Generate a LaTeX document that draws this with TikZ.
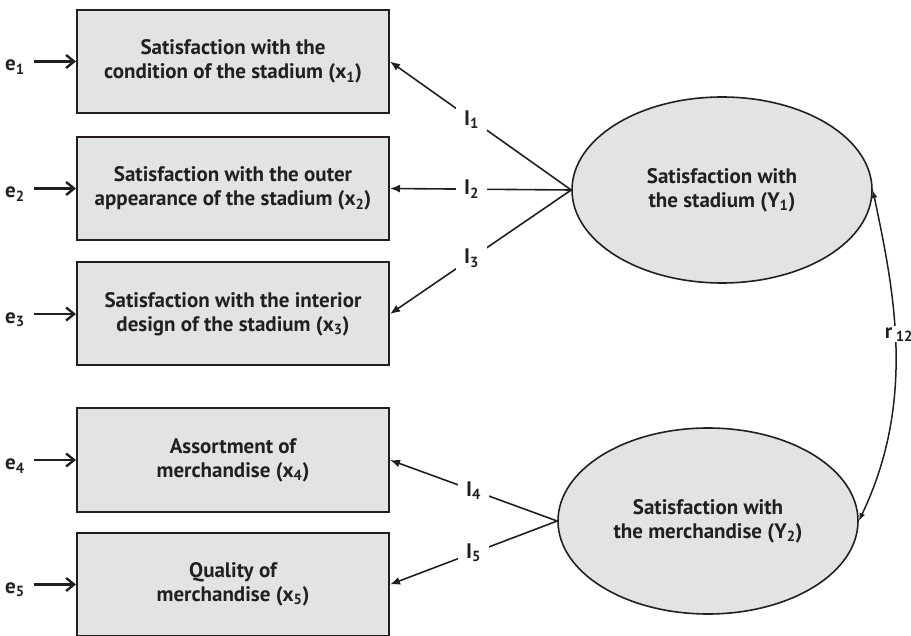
\documentclass[tikz,border=0pt]{standalone}
\usepackage{fontspec}
\setmainfont{PT Sans}
\usetikzlibrary{shapes.geometric,arrows.meta}
\definecolor{cinzento}{RGB}{226,227,229}
\definecolor{tinta}{RGB}{35,31,32}

\begin{document}
\begin{tikzpicture}[x=1pt,y=-1pt,
    font=\fontsize{21}{24}\selectfont\bfseries,text=tinta,
    indicador/.style={rectangle,draw=tinta,line width=2pt,fill=cinzento,minimum width=312pt,minimum height=103pt,align=center},
    construto/.style={ellipse,draw=tinta,line width=1.6pt,fill=cinzento,minimum width=300pt,minimum height=186pt,inner sep=0pt,align=center},
    erro/.style={-{Straight Barb[length=8pt,width=13pt]},line width=2.4pt,draw=tinta},
    carga/.style={-{Latex[length=10pt,width=8pt]},line width=1.6pt,draw=tinta},
    correl/.style={{Latex[length=8pt,width=6pt]}-{Latex[length=8pt,width=6pt]},line width=1.5pt,draw=tinta},
    rotulo/.style={fill=white,inner xsep=8pt,inner ysep=3pt}
]
\useasboundingbox (0,0) rectangle (911,636);

% observed items
\node[indicador] (x1) at (233,61.5) {Satisfaction with the\\condition of the stadium (x\textsubscript{1})};
\node[indicador] (x2) at (233,188.5) {Satisfaction with the outer\\appearance of the stadium (x\textsubscript{2})};
\node[indicador] (x3) at (233,314) {Satisfaction with the interior\\design of the stadium (x\textsubscript{3})};
\node[indicador] (x4) at (233,460) {Assortment of\\merchandise (x\textsubscript{4})};
\node[indicador] (x5) at (233,584.5) {Quality of\\merchandise (x\textsubscript{5})};

% latent variables
\node[construto] (y1) at (722,190) {Satisfaction with\\the stadium (Y\textsubscript{1})};
\node[construto] (y2) at (708,521) {Satisfaction with\\the merchandise (Y\textsubscript{2})};

% errors
\node (e1) at (15,67) {e\textsubscript{1}};
\node (e2) at (15,194) {e\textsubscript{2}};
\node (e3) at (15,320) {e\textsubscript{3}};
\node (e4) at (15,466) {e\textsubscript{4}};
\node (e5) at (15,590) {e\textsubscript{5}};

\draw[erro] ([xshift=6pt]e1.east |- x1.west) -- (x1.west);
\draw[erro] ([xshift=6pt]e2.east |- x2.west) -- (x2.west);
\draw[erro] ([xshift=6pt]e3.east |- x3.west) -- (x3.west);
\draw[erro] ([xshift=6pt]e4.east |- x4.west) -- (x4.west);
\draw[erro] ([xshift=6pt]e5.east |- x5.west) -- (x5.west);

% loadings
\draw[carga] (y1.west) -- node[rotulo,pos=.55] {I\textsubscript{1}} (x1.east);
\draw[carga] (y1.west) -- node[rotulo,pos=.55] {I\textsubscript{2}} (x2.east);
\draw[carga] (y1.west) -- node[rotulo,pos=.55] {I\textsubscript{3}} (x3.east);
\draw[carga] (y2.west) -- node[rotulo,pos=.5] {I\textsubscript{4}} (x4.east);
\draw[carga] (y2.west) -- node[rotulo,pos=.5] {I\textsubscript{5}} (x5.east);

\draw[correl] (y1.east) .. controls +(21,100) and +(58,-121) .. node[fill=white,inner sep=1pt,pos=.46,xshift=4pt] {r\,\textsubscript{12}} (y2.east);
\end{tikzpicture}
\end{document}
